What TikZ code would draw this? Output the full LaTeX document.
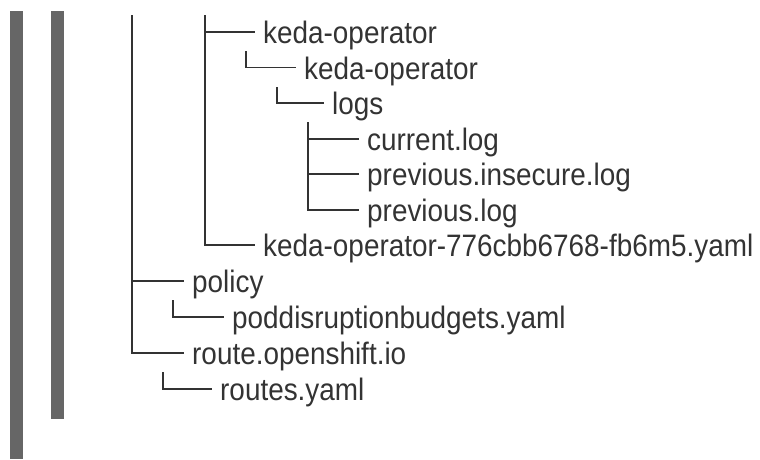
\documentclass[tikz,border=0pt]{standalone}
\usepackage{fontspec}
\setmainfont[FakeStretch=0.9]{Liberation Sans}
\usetikzlibrary{positioning}

\definecolor{bargray}{HTML}{666666}
\definecolor{treeink}{HTML}{333333}

\begin{document}
\begin{tikzpicture}[x=1pt,y=-1pt]
	\tikzset{entry/.style={anchor=west,inner xsep=8.5pt,inner ysep=0pt,text height=23pt,text depth=0pt,
	                       text=treeink,font=\fontsize{31}{36}\selectfont},
	         branch/.style={draw=treeink,line width=1.6pt}}
	\useasboundingbox (0,0) rectangle (760,459);

	%% side bars
	\fill[bargray] (10,11) rectangle (23,459);
	\fill[bargray] (51,11) rectangle (64,419);

	%% tree entries
	\node[entry] (k1)  at (254.5,32)  {keda-operator};
	\node[entry] (k2)  at (295.5,67.6) {keda-operator};
	\node[entry] (lg)  at (323.5,103) {logs};
	\node[entry] (cl)  at (358.5,139) {current.log};
	\node[entry] (pil) at (358.5,174) {previous.insecure.log};
	\node[entry] (pl)  at (358.5,210) {previous.log};
	\node[entry] (ky)  at (254.5,245) {keda-operator-776cbb6768-fb6m5.yaml};
	\node[entry] (pol) at (183.5,281) {policy};
	\node[entry] (pdb) at (223.5,317) {poddisruptionbudgets.yaml};
	\node[entry] (rt)  at (183.5,353) {route.openshift.io};
	\node[entry] (rty) at (211.5,389) {routes.yaml};

	%% trunks
	\coordinate (tA)  at (132,15);
	\coordinate (tB)  at (205,15);
	\coordinate (c2)  at (246,51);
	\coordinate (c3)  at (277,87);
	\coordinate (c4)  at (308,122);
	\coordinate (c9)  at (173,300);
	\coordinate (c11) at (163,372);

	\draw[branch] (tA) |- (rt.west);
	\draw[branch] (tA |- pol.west) -- (pol.west);
	\draw[branch] (tB) |- (ky.west);
	\draw[branch] (tB |- k1.west) -- (k1.west);
	\draw[branch] (c2) |- (k2.west);
	\draw[branch] (c3) |- (lg.west);
	\draw[branch] (c4) |- (pl.west);
	\foreach \n in {cl,pil}
		\draw[branch] (c4 |- \n.west) -- (\n.west);
	\draw[branch] (c9) |- (pdb.west);
	\draw[branch] (c11) |- (rty.west);
\end{tikzpicture}
\end{document}
